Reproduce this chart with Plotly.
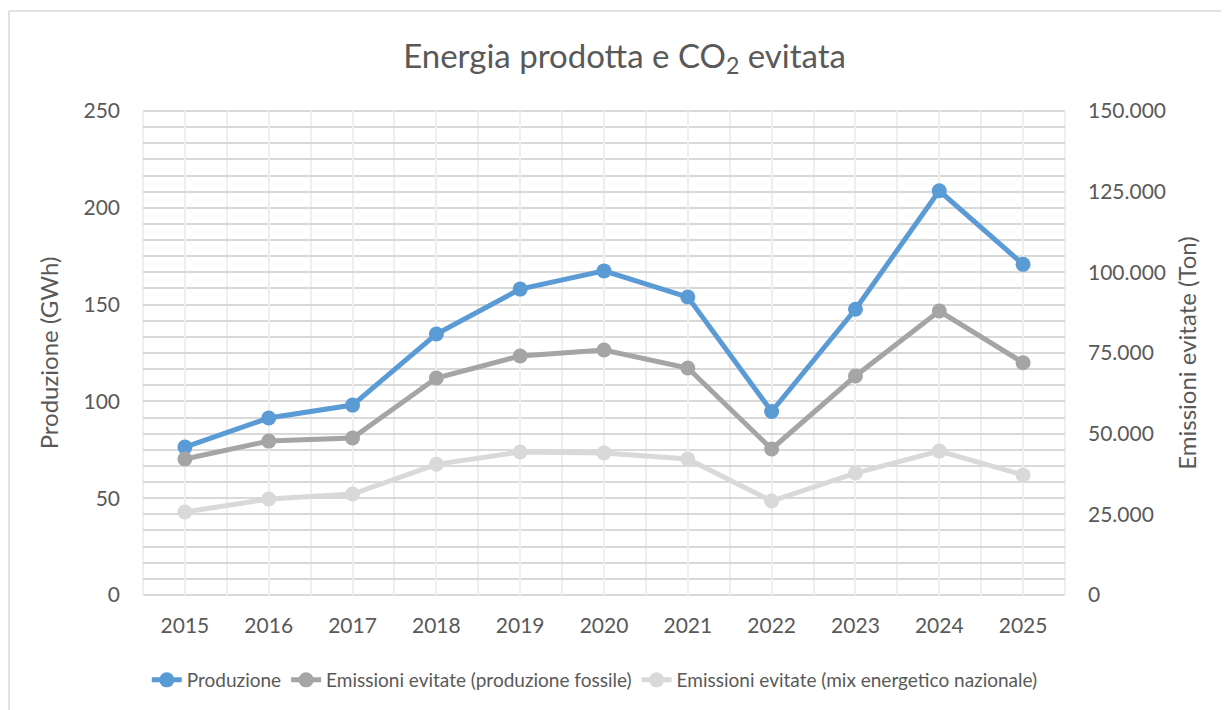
import plotly.graph_objects as go

years = [2015, 2016, 2017, 2018, 2019, 2020, 2021, 2022, 2023, 2024, 2025]
produzione = [76.4, 91.4, 98.1, 134.8, 158.0, 167.4, 153.9, 94.8, 147.6, 208.8, 170.8]
emissioni_fossile = [42150, 47700, 48650, 67250, 74070, 75930, 70350, 45250, 67870, 88010, 72000]
emissioni_mix = [25700, 29750, 31300, 40500, 44300, 44000, 42150, 29130, 37800, 44600, 37200]

FONT = "Lato, Carlito, Calibri, sans-serif"
TXT = "#595959"

fig = go.Figure()
fig.add_trace(go.Scatter(x=years, y=produzione, name="Produzione", mode="lines+markers",
                         line=dict(color="#5b9bd5", width=5), marker=dict(size=15, color="#5b9bd5"),
                         yaxis="y"))
fig.add_trace(go.Scatter(x=years, y=emissioni_fossile, name="Emissioni evitate (produzione fossile)",
                         mode="lines+markers", line=dict(color="#a5a5a5", width=5),
                         marker=dict(size=15, color="#a5a5a5"), yaxis="y2"))
fig.add_trace(go.Scatter(x=years, y=emissioni_mix, name="Emissioni evitate (mix energetico nazionale)",
                         mode="lines+markers", line=dict(color="#d9d9d9", width=5),
                         marker=dict(size=15, color="#d9d9d9"), yaxis="y2"))

fig.update_layout(
    width=1221, height=702,
    margin=dict(l=135, r=164, t=103, b=115, autoexpand=False),
    paper_bgcolor="white", plot_bgcolor="white",
    separators=",.",
    font=dict(family=FONT, color=TXT, size=21),
    title=dict(text="Energia prodotta e CO<sub>2</sub> evitata", x=0.505, xanchor="center",
               y=0.9316, yanchor="middle", font=dict(size=33, color=TXT, family=FONT)),
    xaxis=dict(range=[2014.5, 2025.5], tickvals=years, ticktext=[str(y) for y in years],
               showgrid=True, gridcolor="#efefef", gridwidth=2,
               minor=dict(tick0=2014.5, dtick=1, showgrid=True, gridcolor="#efefef", gridwidth=2),
               showline=False, zeroline=False, ticks="", tickfont=dict(size=21, color=TXT),
               ticklabelstandoff=16),
    yaxis=dict(range=[0, 250], dtick=50, showgrid=False, zeroline=False, showline=False,
               ticks="", tickfont=dict(size=21, color=TXT), ticklabelstandoff=22,
               title=dict(text="Produzione (GWh)", font=dict(size=24, color=TXT), standoff=18)),
    yaxis2=dict(range=[0, 150000], dtick=25000, overlaying="y", side="right",
                tickformat=",d", showgrid=True, gridcolor="#d9d9d9", gridwidth=2,
                minor=dict(dtick=5000, showgrid=True, gridcolor="#d9d9d9", gridwidth=2),
                zeroline=False, showline=False, ticks="", tickfont=dict(size=21, color=TXT),
                ticklabelstandoff=22,
                title=dict(text="Emissioni evitate (Ton)", font=dict(size=24, color=TXT), standoff=14)),
    legend=dict(orientation="h", x=0.49, xanchor="center", y=-0.1756, yanchor="middle",
                font=dict(size=19, color=TXT), itemwidth=30, tracegroupgap=0),
    showlegend=True,
)

# plot-area edge gridlines (plotly skips gridlines that sit on the edges)
for yy in (0, 1):
    fig.add_shape(type="line", xref="paper", yref="paper", x0=0, x1=1, y0=yy, y1=yy,
                  line=dict(color="#d9d9d9", width=2), layer="below")
for xx in (0, 1):
    fig.add_shape(type="line", xref="paper", yref="paper", x0=xx, x1=xx, y0=0, y1=1,
                  line=dict(color="#efefef", width=2), layer="below")

# chart-area border (top and left edges visible in the reference)
fig.add_shape(type="line", xref="paper", yref="paper", x0=-0.1453, x1=1.3, y0=1.2066, y1=1.2066,
              line=dict(color="#d9d9d9", width=1.5), layer="below")
fig.add_shape(type="line", xref="paper", yref="paper", x0=-0.1453, x1=-0.1453, y0=-0.5, y1=1.2066,
              line=dict(color="#d9d9d9", width=1.5), layer="below")

fig.write_html("out.html")
